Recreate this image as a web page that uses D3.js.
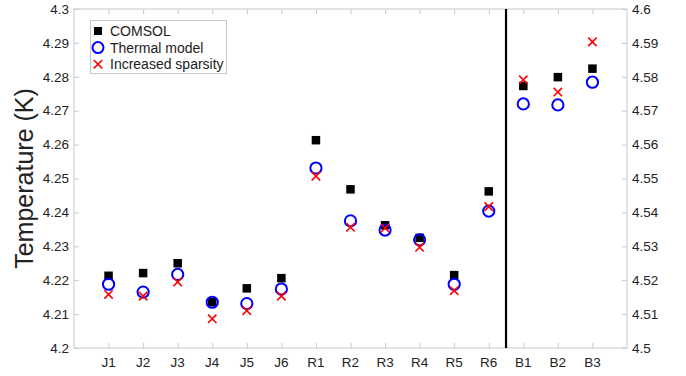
<!DOCTYPE html>
<html>
<head>
<meta charset="utf-8">
<script src="https://cdn.jsdelivr.net/npm/d3@7"></script>
<style>
  body { margin: 0; background: #fff; }
  text { font-family: "Liberation Sans", Arial, sans-serif; fill: #222; }
</style>
</head>
<body>
<div id="chart"></div>
<script>
// categories along x
const categories = ['J1', 'J2', 'J3', 'J4', 'J5', 'J6', 'R1', 'R2', 'R3', 'R4', 'R5', 'R6', 'B1', 'B2', 'B3'];
// J and R use the left axis, B uses the right axis
const comsol    = [4.2213, 4.2221, 4.2250, 4.2135, 4.2176, 4.2206, 4.2613, 4.2468, 4.2362, 4.2325, 4.2215, 4.2462, 4.5773, 4.5799, 4.5824];
const thermal   = [4.2188, 4.2165, 4.2217, 4.2135, 4.2131, 4.2174, 4.2531, 4.2375, 4.2348, 4.2319, 4.2188, 4.2404, 4.5720, 4.5717, 4.5784];
const sparsity  = [4.2158, 4.2153, 4.2195, 4.2086, 4.2110, 4.2153, 4.2507, 4.2356, 4.2354, 4.2297, 4.2169, 4.2417, 4.5791, 4.5755, 4.5903];
const leftTicks  = [4.2, 4.21, 4.22, 4.23, 4.24, 4.25, 4.26, 4.27, 4.28, 4.29, 4.3];
const rightTicks = [4.5, 4.51, 4.52, 4.53, 4.54, 4.55, 4.56, 4.57, 4.58, 4.59, 4.6];
const rightGroup = ['B1', 'B2', 'B3'];

const width = 686, height = 376;
const margin = { top: 9, right: 59, bottom: 28, left: 74 };
const svg = d3.select('#chart').append('svg').attr('width', width).attr('height', height);

const x = d3.scaleLinear().domain([0, categories.length + 1]).range([margin.left, width - margin.right]);
const yL = d3.scaleLinear().domain([4.2, 4.3]).range([height - margin.bottom, margin.top]);
const yR = d3.scaleLinear().domain([4.5, 4.6]).range([height - margin.bottom, margin.top]);
const xPos = c => x(categories.indexOf(c) + 1);
const yOf = (c, v) => rightGroup.includes(c) ? yR(v) : yL(v);

const axisColor = '#c8c8c8';
const fmt = d => String(+d.toFixed(2));

// frame
svg.append('rect')
  .attr('x', margin.left).attr('y', margin.top)
  .attr('width', x.range()[1] - x.range()[0])
  .attr('height', yL.range()[0] - yL.range()[1])
  .attr('fill', 'none').attr('stroke', axisColor);

// axes with inward ticks
const tickLen = 5;
const gL = svg.append('g').attr('transform', `translate(${margin.left},0)`)
  .call(d3.axisRight(yL).tickValues(leftTicks).tickSize(tickLen).tickFormat(''));
const gR = svg.append('g').attr('transform', `translate(${width - margin.right},0)`)
  .call(d3.axisLeft(yR).tickValues(rightTicks).tickSize(tickLen).tickFormat(''));
const gB = svg.append('g').attr('transform', `translate(0,${height - margin.bottom})`)
  .call(d3.axisTop(x).tickValues(d3.range(1, categories.length + 1)).tickSize(tickLen).tickFormat(''));
const gT = svg.append('g').attr('transform', `translate(0,${margin.top})`)
  .call(d3.axisBottom(x).tickValues(d3.range(1, categories.length + 1)).tickSize(tickLen).tickFormat(''));
[gL, gR, gB, gT].forEach(g => {
  g.select('.domain').remove();
  g.selectAll('line').attr('stroke', axisColor);
});

// tick labels
svg.append('g').selectAll('text').data(leftTicks).join('text')
  .attr('x', margin.left - 5).attr('y', d => yL(d)).attr('dy', '0.35em')
  .attr('text-anchor', 'end').attr('font-size', 13.5).text(fmt);
svg.append('g').selectAll('text').data(rightTicks).join('text')
  .attr('x', width - margin.right + 5).attr('y', d => yR(d)).attr('dy', '0.35em')
  .attr('text-anchor', 'start').attr('font-size', 13.5).text(fmt);
svg.append('g').selectAll('text').data(categories).join('text')
  .attr('x', d => xPos(d)).attr('y', height - margin.bottom + 19)
  .attr('text-anchor', 'middle').attr('font-size', 13.5).text(d => d);

// y label
svg.append('text')
  .attr('transform', `translate(33,${(margin.top + height - margin.bottom) / 2}) rotate(-90)`)
  .attr('text-anchor', 'middle').attr('font-size', 25).text('Temperature (K)');

// divider between R and B groups
svg.append('line')
  .attr('x1', x(categories.indexOf('R6') + 1.5)).attr('x2', x(categories.indexOf('R6') + 1.5))
  .attr('y1', margin.top).attr('y2', height - margin.bottom)
  .attr('stroke', '#000').attr('stroke-width', 2.2);

// markers
const sq = 8.5, cr = 5.6, xs = 4.2;
const pts = (arr) => categories.map((c, i) => ({ c, v: arr[i] }));

svg.append('g').selectAll('rect').data(pts(comsol)).join('rect')
  .attr('x', d => xPos(d.c) - sq / 2).attr('y', d => yOf(d.c, d.v) - sq / 2)
  .attr('width', sq).attr('height', sq).attr('fill', '#000');

svg.append('g').selectAll('circle').data(pts(thermal)).join('circle')
  .attr('cx', d => xPos(d.c)).attr('cy', d => yOf(d.c, d.v)).attr('r', cr)
  .attr('fill', 'none').attr('stroke', '#0000ff').attr('stroke-width', 2);

const cross = (g, cx, cy) => g.append('path')
  .attr('d', `M${cx - xs},${cy - xs}L${cx + xs},${cy + xs}M${cx - xs},${cy + xs}L${cx + xs},${cy - xs}`)
  .attr('stroke', '#ff0000').attr('stroke-width', 1.6).attr('fill', 'none');
const gx = svg.append('g');
pts(sparsity).forEach(d => cross(gx, xPos(d.c), yOf(d.c, d.v)));

// legend
const lg = svg.append('g');
lg.append('rect').attr('x', 90.5).attr('y', 20.5).attr('width', 136).attr('height', 53)
  .attr('fill', '#fff').attr('stroke', '#c8c8c8');
const legendItems = ['COMSOL', 'Thermal model', 'Increased sparsity'];
legendItems.forEach((name, i) => {
  const cy = 31 + i * 16.6, mx = 98;
  if (i === 0) lg.append('rect').attr('x', mx - 4).attr('y', cy - 4).attr('width', 8).attr('height', 8).attr('fill', '#000');
  if (i === 1) lg.append('circle').attr('cx', mx).attr('cy', cy).attr('r', 5.5).attr('fill', 'none').attr('stroke', '#0000ff').attr('stroke-width', 2);
  if (i === 2) cross(lg, mx, cy);
  lg.append('text').attr('x', 110).attr('y', cy).attr('dy', '0.35em').attr('font-size', 14).text(name);
});
</script>
</body>
</html>
